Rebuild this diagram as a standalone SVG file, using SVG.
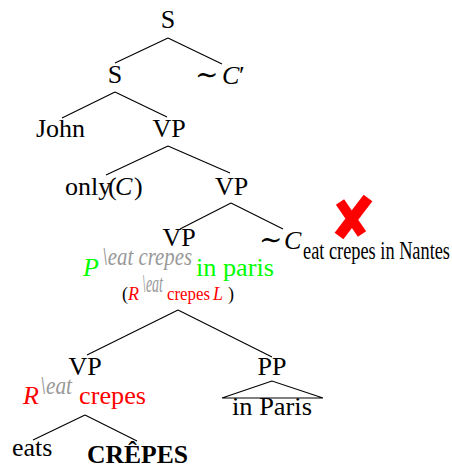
<svg xmlns="http://www.w3.org/2000/svg" width="452" height="469" viewBox="0 0 452 469">
<style>
.t{font-family:"Liberation Serif","DejaVu Serif",serif;font-size:26px;fill:#000}
.it{font-style:italic}
.sm{font-size:18px}
.sim{font-family:"DejaVu Serif",serif;font-size:28px}
.gr{fill:#999;font-style:italic}
.grn{fill:#00ff00}
.red{fill:#ff0000}
.e{stroke:#000;stroke-width:1.1;fill:none}
.x{stroke:#ff0000;fill:none}
</style>
<rect width="452" height="469" fill="#fff"/>
<g id="connectors">
<line class="e" x1="168" y1="38" x2="115" y2="63"/>
<line class="e" x1="168" y1="38" x2="222" y2="64"/>
<line class="e" x1="115" y1="92" x2="62" y2="118"/>
<line class="e" x1="115" y1="92" x2="167" y2="117"/>
<line class="e" x1="168" y1="146" x2="106" y2="175"/>
<line class="e" x1="168" y1="146" x2="230" y2="173"/>
<line class="e" x1="231" y1="203" x2="180" y2="229"/>
<line class="e" x1="231" y1="203" x2="283" y2="229"/>
<line class="e" x1="178" y1="310" x2="87" y2="355"/>
<line class="e" x1="178" y1="310" x2="272" y2="357"/>
<line class="e" x1="85" y1="415" x2="33" y2="440"/>
<line class="e" x1="85" y1="415" x2="137" y2="441"/>
</g>
<g id="n-s-top"><text class="t" x="168" y="28" text-anchor="middle">S</text></g>
<g id="n-s"><text class="t" x="115" y="83" text-anchor="middle">S</text></g>
<g id="n-simc-prime"><text class="t" y="84"><tspan class="sim" x="195">∼</tspan><tspan x="222" class="it">C</tspan><tspan x="239">′</tspan></text></g>
<g id="n-john"><text class="t" x="60.5" y="137" text-anchor="middle">John</text></g>
<g id="n-vp1"><text class="t" x="169" y="137" text-anchor="middle">VP</text></g>
<g id="n-only"><text class="t" y="195"><tspan x="65">only</tspan><tspan x="108">(</tspan><tspan x="115" class="it">C</tspan><tspan x="134">)</tspan></text></g>
<g id="n-vp2"><text class="t" x="231.5" y="194.5" text-anchor="middle">VP</text></g>
<g id="n-vp3">
<text class="t" x="179" y="246" text-anchor="middle">VP</text>
<text class="t it grn" x="83" y="276">P</text>
<text class="t gr" x="102" y="265" font-size="18" textLength="90" lengthAdjust="spacingAndGlyphs">\eat  crepes</text>
<text class="t grn" x="196" y="276" textLength="78" lengthAdjust="spacingAndGlyphs">in paris</text>
<text class="t sm" x="122" y="300" font-size="20">(</text>
<text class="t sm it red" x="128" y="300" font-size="20">R</text>
<text class="t gr" x="142" y="292" font-size="12.5" textLength="21" lengthAdjust="spacingAndGlyphs">\eat</text>
<text class="t sm red" x="167" y="300" font-size="19" textLength="43" lengthAdjust="spacingAndGlyphs">crepes</text>
<text class="t sm it red" x="213" y="300" font-size="20">L</text>
<text class="t sm" x="228" y="300" font-size="20">)</text>
</g>
<g id="n-simc">
<text class="t" y="249"><tspan class="sim" x="259">∼</tspan><tspan x="284" class="it">C</tspan></text>
<text class="t" x="303" y="259" font-size="18.5" textLength="147" lengthAdjust="spacingAndGlyphs">eat crepes in Nantes</text>
<g id="cross">
<line class="x" stroke-width="10" x1="340" y1="202" x2="362" y2="234"/>
<line class="x" stroke-width="11" x1="368" y1="198" x2="339" y2="236"/>
</g>
</g>
<g id="n-vp4">
<text class="t" x="85" y="375" text-anchor="middle">VP</text>
<text class="t it red" x="23" y="404">R</text>
<text class="t gr" x="40" y="394" font-size="17" textLength="32" lengthAdjust="spacingAndGlyphs">\eat</text>
<text class="t red" x="79" y="404" textLength="67" lengthAdjust="spacingAndGlyphs">crepes</text>
</g>
<g id="n-pp">
<text class="t" x="272" y="375" text-anchor="middle">PP</text>
<polygon class="e" points="272,381 222,398 323,398"/>
<text class="t" x="232" y="415" textLength="80" lengthAdjust="spacingAndGlyphs">in Paris</text>
</g>
<g id="n-eats"><text class="t" x="12" y="456">eats</text></g>
<g id="n-crepes"><text class="t" x="87" y="463" font-weight="bold" textLength="101" lengthAdjust="spacingAndGlyphs">CRÊPES</text></g>
</svg>
